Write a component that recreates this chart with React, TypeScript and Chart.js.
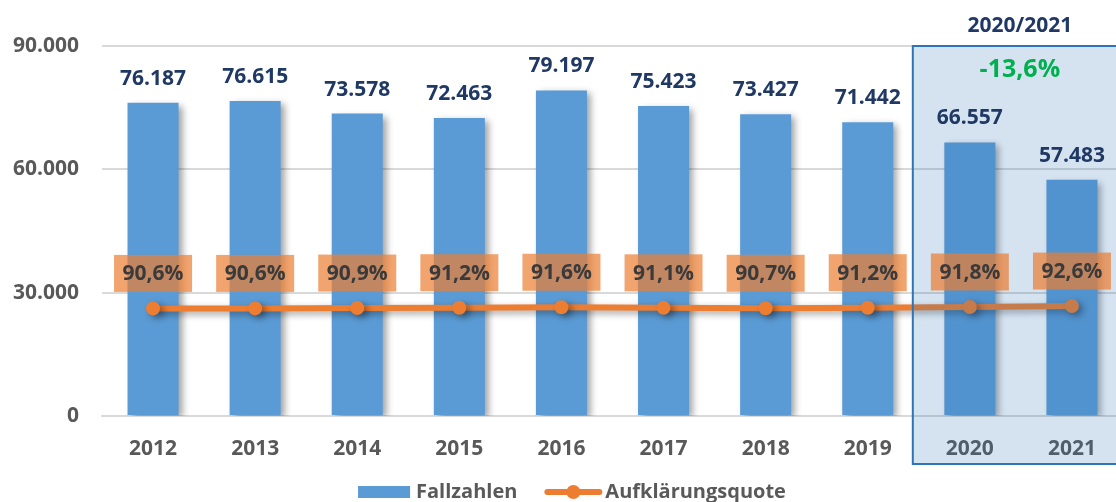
import React, { useEffect, useRef } from "react";
import { Chart, registerables } from "chart.js";

Chart.register(...registerables);

const categories = ["2012", "2013", "2014", "2015", "2016", "2017", "2018", "2019", "2020", "2021"];
const fallzahlen = [76187, 76615, 73578, 72463, 79197, 75423, 73427, 71442, 66557, 57483];
const quote = [90.6, 90.6, 90.9, 91.2, 91.6, 91.1, 90.7, 91.2, 91.8, 92.6];
const yTicks = [0, 30000, 60000, 90000];
const highlightTitle = "2020/2021";
const highlightChange = "-13,6%";

const FONT = "'Open Sans', 'Liberation Sans', sans-serif";
const BLUE = "#5B9BD5";
const ORANGE = "#ED7D31";
const NAVY = "#1F3864";
const GRAY = "#595959";

function fmtThousands(n: number): string {
  const s = Math.round(n).toString();
  return s.replace(/\B(?=(\d{3})+(?!\d))/g, ".");
}
function fmtPct(v: number): string {
  return v.toFixed(1).replace(".", ",") + "%";
}

const shadowPlugin = {
  id: "shadowPlugin",
  beforeDatasetsDraw(chart: any) {
    const ctx = chart.ctx;
    ctx.save();
    ctx.shadowColor = "rgba(0,0,0,0.38)";
    ctx.shadowBlur = 7;
    ctx.shadowOffsetX = 4;
    ctx.shadowOffsetY = 3;
  },
  afterDatasetsDraw(chart: any) {
    const ctx = chart.ctx;
    ctx.restore();
    // highlight overlay for the last two categories
    const xs = chart.scales.x;
    const ca = chart.chartArea;
    const i0 = categories.length - 2;
    const left = (xs.getPixelForValue(i0 - 1) + xs.getPixelForValue(i0)) / 2 - 6;
    const top = chart.scales.y.getPixelForValue(90000);
    const bottom = ca.bottom + 48;
    const right = chart.width + 10;
    ctx.save();
    ctx.fillStyle = "rgba(46,117,182,0.2)";
    ctx.fillRect(left, top, right - left, bottom - top);
    ctx.strokeStyle = "#2E75B6";
    ctx.lineWidth = 2;
    ctx.strokeRect(left, top, right - left, bottom - top);
    ctx.restore();
  },
};

const labelPlugin = {
  id: "labelPlugin",
  afterDraw(chart: any) {
    const ctx = chart.ctx;
    const barMeta = chart.getDatasetMeta(1);
    const lineMeta = chart.getDatasetMeta(0);
    ctx.save();
    // bar value labels
    ctx.font = `bold 21px ${FONT}`;
    ctx.fillStyle = NAVY;
    ctx.textAlign = "center";
    ctx.textBaseline = "alphabetic";
    barMeta.data.forEach((el: any, i: number) => {
      ctx.fillText(fmtThousands(fallzahlen[i]), el.x, el.y - 18);
    });
    // percentage labels in orange boxes
    lineMeta.data.forEach((el: any, i: number) => {
      const cy = el.y - 35;
      const w = 78;
      const h = 37;
      ctx.fillStyle = "rgba(237,125,49,0.7)";
      ctx.fillRect(el.x - w / 2, cy - h / 2, w, h);
      ctx.fillStyle = "#3A3A3A";
      ctx.textBaseline = "middle";
      ctx.fillText(fmtPct(quote[i]), el.x, cy + 1);
    });
    // highlight titles
    const xs = chart.scales.x;
    const n = categories.length;
    const cx = (xs.getPixelForValue(n - 2) + xs.getPixelForValue(n - 1)) / 2 - 1;
    ctx.textBaseline = "middle";
    ctx.fillStyle = NAVY;
    ctx.font = `bold 21px ${FONT}`;
    ctx.fillText(highlightTitle, cx, 26);
    ctx.fillStyle = "#00B050";
    ctx.font = `bold 25px ${FONT}`;
    ctx.fillText(highlightChange, cx, 70);

    // legend
    ctx.font = `bold 20px ${FONT}`;
    const t1 = chart.data.datasets[1].label;
    const t2 = chart.data.datasets[0].label;
    const w1 = ctx.measureText(t1).width;
    const w2 = ctx.measureText(t2).width;
    const total = 52 + 6 + w1 + 27 + 58 + 3 + w2;
    let x = 572 - total / 2;
    const ly = 492;
    ctx.fillStyle = BLUE;
    ctx.fillRect(x, ly - 6, 52, 12);
    x += 58;
    ctx.fillStyle = GRAY;
    ctx.textAlign = "left";
    ctx.textBaseline = "middle";
    ctx.fillText(t1, x, ly);
    x += w1 + 27;
    ctx.strokeStyle = ORANGE;
    ctx.lineWidth = 6;
    ctx.lineCap = "round";
    ctx.beginPath();
    ctx.moveTo(x + 3, ly);
    ctx.lineTo(x + 55, ly);
    ctx.stroke();
    ctx.fillStyle = ORANGE;
    ctx.beginPath();
    ctx.arc(x + 29, ly, 7, 0, Math.PI * 2);
    ctx.fill();
    x += 61;
    ctx.fillStyle = GRAY;
    ctx.fillText(t2, x, ly);
    ctx.restore();
  },
};

export default function App() {
  const ref = useRef<HTMLCanvasElement | null>(null);
  useEffect(() => {
    if (!ref.current) return;
    const chart = new Chart(ref.current, {
      type: "bar",
      data: {
        labels: categories,
        datasets: [
          {
            type: "line",
            label: "Aufklärungsquote",
            data: quote,
            yAxisID: "y2",
            borderColor: ORANGE,
            backgroundColor: ORANGE,
            borderWidth: 6,
            pointRadius: 7,
            pointBackgroundColor: ORANGE,
            pointBorderWidth: 0,
            tension: 0,
            order: 0,
          } as any,
          {
            type: "bar",
            label: "Fallzahlen",
            data: fallzahlen,
            yAxisID: "y",
            backgroundColor: BLUE,
            barPercentage: 0.5,
            categoryPercentage: 1,
            order: 1,
          } as any,
        ],
      },
      options: {
        responsive: false,
        animation: false,
        devicePixelRatio: 1,
        layout: { padding: { top: 46, right: 2, left: 0, bottom: 0 } },
        plugins: {
          legend: { display: false },
          tooltip: { enabled: false },
        },
        scales: {
          x: {
            grid: { display: false, drawTicks: false },
            border: { display: true, color: "#D9D9D9", width: 2 },
            ticks: {
              color: GRAY,
              font: { family: FONT, size: 21, weight: "bold" },
              padding: 20,
            },
            afterFit: (s: any) => {
              s.height = 86;
            },
          },
          y: {
            min: 0,
            max: 90000,
            afterBuildTicks: (s: any) => {
              s.ticks = yTicks.map((v) => ({ value: v }));
            },
            grid: { color: "#D9D9D9", lineWidth: 2, drawTicks: false },
            border: { display: false },
            ticks: {
              color: GRAY,
              font: { family: FONT, size: 21, weight: "bold" },
              padding: 23,
              callback: (v: any) => fmtThousands(Number(v)),
            },
            afterFit: (s: any) => {
              s.width = 102;
            },
          },
          y2: {
            display: false,
            min: 0,
            max: 311.6,
          },
        },
      },
      plugins: [shadowPlugin, labelPlugin],
    });
    return () => chart.destroy();
  }, []);
  return (
    <div
      style={{
        position: "fixed",
        left: 0,
        top: 0,
        width: 1116,
        height: 502,
        overflow: "hidden",
        background: "#fff",
      }}
    >
      <canvas ref={ref} width={1130} height={502} style={{ display: "block" }} />
    </div>
  );
}
